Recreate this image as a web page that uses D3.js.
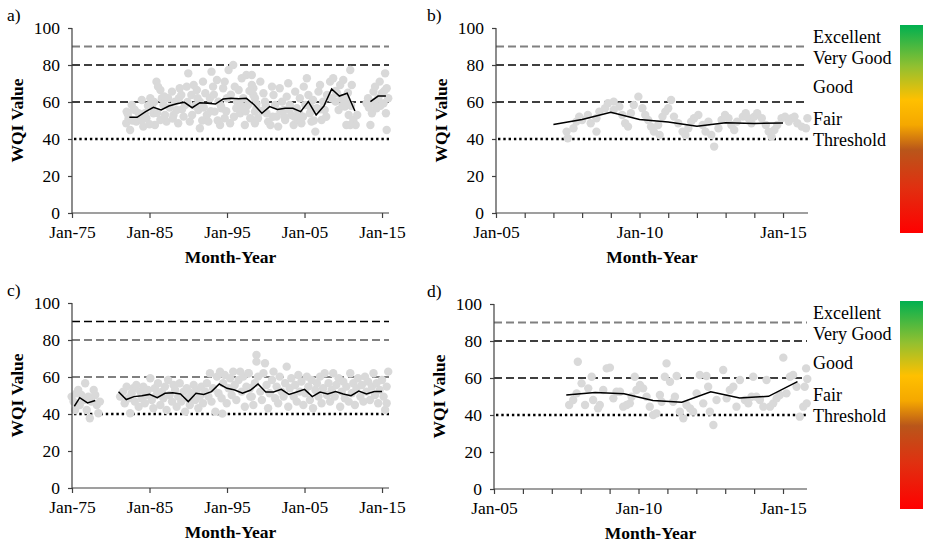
<!DOCTYPE html>
<html><head><meta charset="utf-8">
<script src="https://cdn.jsdelivr.net/npm/d3@7"></script>
<style>body{margin:0;background:#fff}</style>
</head><body><svg id="chart" width="930" height="544"></svg>
<script>
// ---------- data ----------
const yTicks = [0, 20, 40, 60, 80, 100];
const xTicksLong = [1975, 1985, 1995, 2005, 2015];
const xTickLabelsLong = ["Jan-75", "Jan-85", "Jan-95", "Jan-05", "Jan-15"];
const xTicksShort = [2005, 2006, 2007, 2008, 2009, 2010, 2011, 2012, 2013, 2014, 2015];
const xTickLabelsShort = ["Jan-05", "", "", "", "", "Jan-10", "", "", "", "", "Jan-15"];
const guideValues = [90, 80, 60];
const thresholdValue = 40;
const classLabels = ["Excellent", "Very Good", "Good", "Fair", "Threshold"];
const classLabelValues = [95, 84, 68, 51, 39.5];
const panelLetters = ["a)", "b)", "c)", "d)"];
const xTitle = "Month-Year";
const yTitle = "WQI Value";
const barStops = [
  [0, "#00b050"], [0.2, "#92c030"], [0.36, "#ffc000"], [0.48, "#f5a800"],
  [0.6, "#b9561a"], [0.78, "#e03010"], [1, "#ff0000"]
];

// panel a: annual mean line
const lineYearsA = [1982.4,1983.4,1984.5,1985.5,1986.5,1987.5,1988.5,1989.5,1990.5,1991.5,1992.5,1993.5,1994.5,1995.5,1996.5,1997.5,1998.5,1999.5,2000.5,2001.5,2002.5,2003.5,2004.5,2005.5,2006.5,2007.5,2008.5,2009.5,2010.5,2011.5,2012.5,2013.5,2014.5,2015.5];
const lineValuesA = [51.7,51.7,54.8,57.1,55.7,57.8,59.1,59.8,56.9,59.6,59.3,58.9,61.6,62.0,61.8,62.0,58.5,53.9,57.5,56.0,56.6,56.6,54.8,60.2,53.0,57.8,67.0,63.2,64.7,55.1,null,60.2,63.2,63.2];
const scatterA = [
[1982.05,54.8],[1982.3,51.2],[1982.5,44.9],[1982.7,58.4],[1983.1,55.7],[1983.3,49.4],[1983.8,52.1],[1984.0,61.1],[1984.2,46.7],[1984.4,53.9],[1984.6,51.2],[1982.0,48.5],
[1985.1,62.0],[1985.3,57.5],[1985.5,53.9],[1985.9,71.0],[1986.1,68.3],[1986.4,66.5],[1986.6,62.0],[1986.8,58.4],[1987.0,53.0],[1987.2,49.4],[1986.4,50.3],[1985.7,47.6],[1987.4,62.0],
[1987.9,65.6],[1988.3,60.2],[1988.5,55.7],[1988.9,67.4],[1989.1,63.8],[1989.4,52.1],[1989.8,68.3],[1990.0,75.5],[1989.6,58.4],[1990.2,49.4],[1988.7,48.5],[1988.1,53.0],
[1990.4,63.8],[1990.7,69.2],[1991.1,66.5],[1991.3,55.7],[1991.5,45.8],[1991.9,71.0],[1992.2,64.7],[1992.4,53.0],[1992.6,49.4],[1992.8,62.0],[1991.5,60.2],
[1993.0,76.4],[1993.2,68.3],[1993.7,71.9],[1993.9,60.2],[1994.1,47.6],[1994.3,56.6],[1994.5,67.4],[1994.7,51.2],[1995.0,62.0],[1995.2,77.3],[1995.4,48.5],[1993.4,54.8],
[1995.8,80.0],[1996.0,68.3],[1996.2,56.6],[1996.5,66.5],[1996.7,53.9],[1996.9,72.8],[1997.1,62.0],[1997.3,47.6],[1997.5,74.6],[1997.7,58.4],[1998.0,51.2],[1998.2,69.2],[1998.4,63.8],[1998.6,54.8],[1994.7,71.0],
[1998.2,74.6],[1998.4,67.4],[1998.6,62.0],[1998.8,56.6],[1999.0,51.2],[1998.6,48.5],[1999.3,71.0],[1999.7,64.7],[1999.9,60.2],[2000.1,53.9],[2000.3,49.4],[2000.6,47.6],
[2000.8,68.3],[2001.0,63.8],[2001.2,58.4],[2001.4,52.1],[2001.6,46.7],[2001.8,67.4],[2002.1,60.2],[2002.3,55.7],[2002.5,50.3],[2002.7,62.9],[2002.9,70.1],[2003.1,58.4],
[2003.3,53.0],[2003.6,47.6],[2003.8,65.6],[2004.0,56.6],[2004.2,50.3],[2004.4,62.0],[2004.6,48.5],[2004.9,68.3],[2005.1,58.4],[2005.3,72.8],[2005.5,63.8],[2005.7,53.9],
[2005.9,49.4],[2006.1,61.1],[2006.4,44.0],[2006.6,56.6],[2006.8,65.6],[2007.0,69.2],[2007.2,50.3],[2007.4,60.2],[2007.6,55.7],[2007.9,63.8],[2008.3,71.0],[2008.7,72.8],
[2009.0,60.2],[2009.2,64.7],[2009.4,55.7],[2009.6,69.2],[2009.8,62.0],[2010.0,71.9],[2010.2,57.5],[2010.4,61.1],[2010.7,53.0],[2010.9,77.3],[2011.1,69.2],[2011.3,50.3],
[2011.6,47.6],[2010.9,47.6],[2010.4,47.6],[2013.0,59.3],[2013.2,62.0],[2013.5,47.6],[2013.7,53.9],[2013.9,65.6],[2014.1,68.3],[2014.3,56.6],[2014.5,62.0],[2014.7,71.0],
[2015.0,64.7],[2015.2,59.3],[2015.4,75.5],[2015.5,53.9],[2015.6,67.4],[2015.6,44.9],[2015.8,62.0],
[1982.2,53.5],[1982.8,50],[1983.0,56],[1983.6,54],[1984.0,50],[1984.8,58],[1985.0,48],[1985.6,60],[1986.0,54],[1986.9,63],[1987.6,57],[1988.0,51],[1988.8,62],[1989.2,56],
[1989.9,60],[1990.5,53],[1990.9,58],[1991.2,62],[1991.8,50],[1992.0,57],[1992.9,55],[1993.3,64],[1993.8,50],[1994.2,58],[1994.9,55],[1995.5,64],[1995.9,52],[1996.3,60],
[1996.8,58],[1997.4,55],[1997.9,66],[1998.8,59],[1999.5,55],[2000.0,58],[2000.9,52],[2001.9,55],[2002.4,52],[2003.0,56],[2003.7,52],[2004.3,54],[2004.8,52],[2005.8,57],
[2006.2,50],[2007.1,56],[2007.8,52],[2008.5,62],[2009.0,66],[2009.9,58],[2010.6,65],[2011.0,58],[2011.8,53],[2013.3,57],[2014.0,60],[2014.8,58],[2015.3,66]
];

// panel b
const lineYearsB = [2007,2008,2009,2010,2011,2012,2013,2014,2015];
const lineValuesB = [47.8,50.5,54.5,50.6,49.2,46.9,48.8,48.4,48.6];
const scatterB = [
[2007.5,40.4],[2007.7,45.8],[2007.8,49.4],[2007.9,52.1],[2008.0,50.3],[2008.2,53.0],[2008.3,48.5],[2008.5,51.2],[2008.6,54.8],[2008.8,56.6],[2008.9,59.3],[2009.1,60.2],
[2009.3,57.5],[2009.4,53.0],[2009.5,48.5],[2009.6,46.7],[2009.7,53.9],[2009.8,58.4],[2009.96,62.9],[2010.1,56.6],[2010.2,53.0],[2010.3,50.3],[2010.4,46.7],[2010.5,44.0],
[2010.65,47.6],[2010.8,52.1],[2010.9,54.8],[2011.0,56.6],[2011.1,61.1],[2011.2,52.1],[2011.35,48.5],[2011.5,44.0],[2011.6,42.2],[2011.7,45.8],[2011.8,49.4],[2011.9,51.2],
[2012.05,53.0],[2012.2,47.6],[2012.3,44.0],[2012.4,49.4],[2012.5,42.2],[2012.6,35.9],[2012.75,45.8],[2012.86,50.3],[2012.98,53.0],[2013.1,51.2],[2013.2,47.6],[2013.3,44.9],
[2013.4,49.4],[2013.6,52.1],[2013.7,53.9],[2013.8,51.2],[2013.9,48.5],[2014.0,52.1],[2014.1,53.9],[2014.26,51.2],[2014.4,47.6],[2014.5,44.0],[2014.6,41.3],[2014.7,44.9],
[2014.8,47.6],[2014.95,51.2],[2015.07,52.1],[2015.2,49.4],[2015.3,51.2],[2015.4,52.1],[2015.5,48.5],[2015.65,46.7],[2015.8,45.8],[2015.85,51.2],
[2007.46,44.0],[2008.5,44.0],[2009.1,55.7],[2010.7,42.2]
];

// panel c
const lineYearsC = [1975.3,1976,1977,1978,1979.5,1981,1982,1983,1984,1985,1986,1987,1988,1989,1990,1991,1992,1993,1994,1995,1996,1997,1998,1999,2000,2001,2002,2003,2004,2005,2006,2007,2008,2009,2010,2011,2012,2013,2014,2015];
const lineValuesC = [44.2,48.8,46.0,47.3,null,52.0,47.8,49.4,49.9,50.6,48.8,51.2,51.5,50.8,46.7,51.2,50.6,52.1,56.2,53.9,53.0,51.2,52.8,56.2,51.9,51.9,53.3,50.6,51.9,53.3,49.4,51.9,50.8,52.1,50.8,49.9,52.4,50.8,52.1,52.1];
const scatterC = [
[1974.95,49.4],[1975.2,46.7],[1975.4,42.2],[1975.6,51.2],[1976.0,44.9],[1976.2,50.3],[1976.5,47.6],[1976.7,56.6],[1976.9,42.2],[1977.1,49.4],[1977.3,37.7],[1977.5,46.7],
[1977.8,53.0],[1978.0,50.3],[1978.2,44.9],[1978.6,46.7],[1978.4,40.4],[1975.8,53.0],
[1981.2,49.4],[1981.6,52.1],[1981.8,45.8],[1982.05,54.8],[1982.3,48.5],[1982.5,40.4],[1982.7,51.2],[1982.9,53.9],[1983.1,46.7],[1983.3,55.7],[1983.6,43.9],[1983.8,52.1],
[1984.0,48.5],[1984.2,54.8],[1984.4,45.8],[1984.6,50.3],[1984.8,53.0],[1985.1,59.3],[1985.3,47.6],[1985.5,43.1],[1985.7,53.9],[1985.9,50.3],[1986.1,56.6],[1986.4,44.9],
[1986.6,52.1],[1986.8,48.5],[1987.0,54.8],[1987.2,42.2],[1987.4,58.4],[1987.6,50.3],[1987.9,46.7],[1988.1,55.7],[1988.3,53.0],[1988.5,43.9],[1988.7,49.4],[1988.9,56.6],
[1989.1,46.7],[1989.4,52.1],[1989.6,41.3],[1989.8,53.9],[1990.0,48.5],[1990.2,44.9],[1990.4,51.2],[1990.7,55.7],[1990.9,47.6],[1991.1,53.0],[1991.3,43.1],[1991.5,49.4],
[1991.7,54.8],[1991.9,45.8],[1992.2,52.1],[1992.4,56.6],[1992.6,49.4],[1992.8,62.0],[1993.0,46.7],[1993.2,53.9],[1993.5,41.3],[1993.7,60.2],[1993.9,51.2],[1994.1,62.9],
[1994.3,48.5],[1994.5,56.6],[1994.7,61.1],[1994.96,45.8],[1995.2,53.9],[1995.4,59.3],[1995.6,50.3],[1995.8,62.9],[1996.0,55.7],[1996.2,47.6],[1996.5,58.4],[1996.7,62.9],
[1996.9,52.1],[1997.1,60.2],[1997.3,43.9],[1997.5,54.8],[1997.8,62.0],[1998.0,49.4],[1994.4,40.2],
[1997.75,62.0],[1997.97,53.9],[1998.2,49.4],[1998.4,44.9],[1998.6,56.6],[1998.8,71.9],[1998.8,68.3],[1999.0,60.2],[1999.3,52.1],[1999.5,47.6],[1999.7,62.0],[1999.9,67.4],
[2000.1,55.7],[2000.3,43.1],[2000.5,51.2],[2000.8,58.4],[2001.0,62.9],[2001.2,48.5],[2001.4,54.8],[2001.6,45.8],[2001.8,60.2],[2002.05,52.1],[2002.3,49.4],[2002.5,56.6],
[2002.7,65.6],[2002.9,43.9],[2003.1,53.9],[2003.3,59.3],[2003.6,49.4],[2003.8,55.7],[2004.0,46.7],[2004.2,61.1],[2004.4,52.1],[2004.6,57.5],[2004.85,44.9],[2005.1,51.2],
[2005.3,60.2],[2005.5,54.8],[2005.7,47.6],[2005.9,58.4],[2006.1,43.1],[2006.4,53.0],[2006.6,56.6],[2006.8,49.4],[2007.0,60.2],[2007.2,45.8],[2007.4,53.9],[2007.6,62.0],
[2007.9,50.3],[2008.1,56.6],[2008.3,46.7],[2008.5,53.0],[2008.7,62.0],[2008.9,49.4],[2009.1,55.7],[2009.4,59.3],[2009.6,43.9],[2009.8,52.1],[2010.0,57.5],[2010.2,48.5],
[2010.4,54.8],[2010.7,46.7],[2010.9,62.0],[2011.1,51.2],[2011.3,56.6],[2011.5,44.9],[2011.7,53.9],[2011.9,59.3],[2012.2,49.4],[2012.4,55.7],[2012.6,46.7],[2012.8,60.2],
[2013.0,52.1],[2013.2,57.5],[2013.45,47.6],[2013.7,54.8],[2013.9,62.0],[2014.1,50.3],[2014.3,56.6],[2014.5,45.8],[2014.7,53.0],[2015.0,58.4],[2015.2,49.4],[2015.4,42.2],
[2015.6,54.8],[2015.8,62.9],[2015.6,45.8]
];

// panel d
const lineYearsD = [2007.5,2008.5,2009.5,2010.5,2011.5,2012.5,2013.5,2014.5,2015.5];
const lineValuesD = [50.8,52.1,51.5,47.9,46.9,52.6,49.2,50.1,58.0];
const scatterD = [
[2007.9,68.8],[2007.6,45.4],[2007.74,48.1],[2007.86,51.7],[2008.03,57.1],[2008.15,45.4],[2008.26,54.4],[2008.38,60.7],[2008.43,48.1],[2008.6,43.6],[2008.66,45.4],[2008.78,53.5],
[2008.9,65.2],[2009.01,65.6],[2009.13,49.0],[2009.24,52.6],[2009.36,52.6],[2009.47,44.5],[2009.59,45.4],[2009.7,46.3],[2009.76,49.9],[2009.87,60.7],[2009.93,53.5],[2010.05,56.2],
[2010.16,54.4],[2010.28,49.9],[2010.39,44.5],[2010.51,40.0],[2010.62,40.9],[2010.74,50.8],[2010.8,47.2],[2010.91,60.7],[2010.97,67.9],[2011.09,58.0],[2011.2,47.2],[2011.26,49.9],
[2011.32,61.1],[2011.43,41.8],[2011.55,38.2],[2011.66,45.4],[2011.78,43.6],[2011.89,41.8],[2012.01,51.7],[2012.12,61.6],[2012.24,46.3],[2012.35,61.1],[2012.41,55.3],[2012.47,41.8],
[2012.59,34.6],[2012.7,48.1],[2012.93,64.3],[2013.05,49.0],[2013.16,53.5],[2013.28,55.3],[2013.39,44.5],[2013.51,58.9],[2013.68,48.1],[2013.8,46.3],[2013.91,49.9],[2013.97,60.7],
[2014.08,49.9],[2014.2,48.1],[2014.32,44.5],[2014.43,58.9],[2014.55,44.5],[2014.66,46.3],[2014.78,49.0],[2014.89,50.8],[2015.01,71.0],[2015.12,51.7],[2015.24,60.7],[2015.35,61.6],
[2015.47,55.3],[2015.58,39.1],[2015.7,44.5],[2015.82,46.3],[2015.75,55.3],[2015.8,65.2],[2015.84,59.5]
];

// ---------- drawing ----------
const FONT = "'Liberation Serif','Times New Roman',serif";
const FS = 17.5;
const svg = d3.select("#chart");
svg.append("rect").attr("width", 930).attr("height", 544).attr("fill", "#fff");

const defs = svg.append("defs");
const grad = defs.append("linearGradient").attr("id", "wqiGrad")
  .attr("x1", 0).attr("y1", 0).attr("x2", 0).attr("y2", 1);
barStops.forEach(s => grad.append("stop").attr("offset", s[0]).attr("stop-color", s[1]));

const panels = [
  {letter: panelLetters[0], lx: 7, left: 72, right: 389, top: 28, bottom: 213, xDomain: [1975, 2015.9],
   ticks: xTicksLong, tickLabels: xTickLabelsLong,
   guideColors: ["#808080", "#000", "#000"], guideWidths: [2, 1.3, 1.3],
   scatter: scatterA, lineX: lineYearsA, lineY: lineValuesA, legend: false},
  {letter: panelLetters[1], lx: 427, left: 496, right: 808, top: 28, bottom: 213, xDomain: [2005, 2015.87],
   ticks: xTicksShort, tickLabels: xTickLabelsShort,
   guideColors: ["#808080", "#000", "#000"], guideWidths: [2, 1.3, 1.3],
   scatter: scatterB, lineX: lineYearsB, lineY: lineValuesB, legend: true},
  {letter: panelLetters[2], lx: 7, left: 72, right: 389, top: 303, bottom: 488, xDomain: [1975, 2015.9],
   ticks: xTicksLong, tickLabels: xTickLabelsLong,
   guideColors: ["#000", "#808080", "#808080"], guideWidths: [1.3, 2, 2],
   scatter: scatterC, lineX: lineYearsC, lineY: lineValuesC, legend: false},
  {letter: panelLetters[3], lx: 427, left: 494, right: 807, top: 304, bottom: 489, xDomain: [2005, 2015.83],
   ticks: xTicksShort, tickLabels: xTickLabelsShort,
   guideColors: ["#808080", "#000", "#000"], guideWidths: [2, 1.3, 1.3],
   scatter: scatterD, lineX: lineYearsD, lineY: lineValuesD, legend: true}
];

panels.forEach(p => {
  const g = svg.append("g");
  const x = d3.scaleLinear().domain(p.xDomain).range([p.left, p.right]);
  const y = d3.scaleLinear().domain([0, 100]).range([p.bottom, p.top]);

  guideValues.forEach((v, i) => {
    g.append("line").attr("x1", x(p.xDomain[0])).attr("x2", x(p.xDomain[1]))
      .attr("y1", y(v)).attr("y2", y(v))
      .attr("stroke", p.guideColors[i]).attr("stroke-width", p.guideWidths[i])
      .attr("stroke-dasharray", "8,4");
  });
  g.append("line").attr("x1", x(p.xDomain[0]) + 2).attr("x2", x(p.xDomain[1]))
    .attr("y1", y(thresholdValue)).attr("y2", y(thresholdValue))
    .attr("stroke", "#000").attr("stroke-width", 2.6).attr("stroke-dasharray", "2.4,2.9");

  g.append("g").selectAll("circle").data(p.scatter).join("circle")
    .attr("cx", d => x(d[0])).attr("cy", d => y(d[1])).attr("r", 4.2)
    .attr("fill", "#d9d9d9");

  const pts = p.lineX.map((t, i) => [t, p.lineY[i]]);
  g.append("path").datum(pts)
    .attr("d", d3.line().defined(d => d[1] !== null).x(d => x(d[0])).y(d => y(d[1])))
    .attr("fill", "none").attr("stroke", "#000").attr("stroke-width", 1.5);

  const yAxis = d3.axisLeft(y).tickValues(yTicks).tickSize(4).tickPadding(8);
  const ya = g.append("g").attr("transform", `translate(${p.left},0)`).call(yAxis);
  const xAxis = d3.axisBottom(x).tickValues(p.ticks).tickSize(5).tickPadding(8)
    .tickFormat((d, i) => p.tickLabels[i]);
  const xa = g.append("g").attr("transform", `translate(0,${p.bottom})`).call(xAxis);
  [ya, xa].forEach(a => {
    a.select(".domain").attr("stroke", "#404040").attr("stroke-width", 1.2);
    a.selectAll(".tick line").attr("stroke", "#404040").attr("stroke-width", 1.2);
    a.selectAll("text").attr("font-family", FONT).attr("font-size", FS).attr("fill", "#000");
  });
  ya.select(".domain").attr("d", `M0,${p.bottom}V${p.top}`);
  xa.select(".domain").attr("d", `M${p.left},0H${p.right}`);

  g.append("text").attr("transform", `translate(${p.left - 49},${(p.top + p.bottom) / 2}) rotate(-90)`)
    .attr("text-anchor", "middle").attr("font-family", FONT).attr("font-weight", "bold")
    .attr("font-size", FS).text(yTitle);
  g.append("text").attr("x", (p.left + p.right) / 2).attr("y", p.bottom + 50)
    .attr("text-anchor", "middle").attr("font-family", FONT).attr("font-weight", "bold")
    .attr("font-size", FS).text(xTitle);
  g.append("text").attr("x", p.lx).attr("y", p.top - 7)
    .attr("font-family", FONT).attr("font-size", FS).text(p.letter);

  if (p.legend) {
    classLabels.forEach((lab, i) => {
      g.append("text").attr("x", 813).attr("y", y(classLabelValues[i]))
        .attr("dominant-baseline", "central").attr("font-family", FONT)
        .attr("font-size", 18).text(lab);
    });
    g.append("rect").attr("x", 900).attr("y", p.top - 3).attr("width", 23)
      .attr("height", 208).attr("fill", "url(#wqiGrad)");
  }
});
</script></body></html>
